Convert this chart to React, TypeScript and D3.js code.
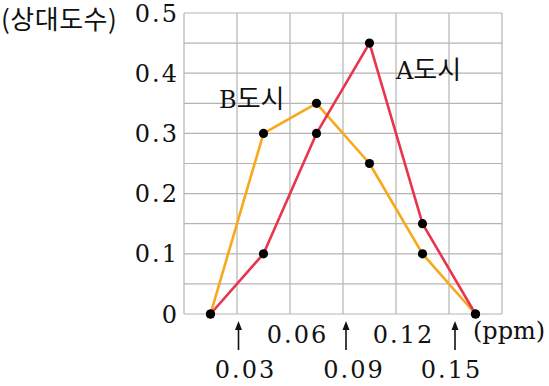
import * as d3 from 'd3';
import React from 'react';

// relative frequency polygon of ozone (?) concentrations, two cities
const classMids = [0.015, 0.045, 0.075, 0.105, 0.135, 0.165];
const cityA = [0, 0.1, 0.3, 0.45, 0.15, 0];
const cityB = [0, 0.3, 0.35, 0.25, 0.1, 0];
const yTicks = [0, 0.1, 0.2, 0.3, 0.4, 0.5];
const xUpperTicks = [0.06, 0.12];
const xArrowTicks = [0.03, 0.09, 0.15];

const W = 549;
const H = 386;
const serif = '"DejaVu Serif", "Liberation Serif", serif';
const kr = '"Noto Sans CJK KR", sans-serif';

export default function App() {
  const x = d3.scaleLinear().domain([0, 0.18]).range([184, 502]);
  const y = d3.scaleLinear().domain([0, 0.5]).range([314, 13]);

  const line = d3
    .line<number>()
    .x((_, i) => x(classMids[i]))
    .y((d) => y(d));

  const hGrid = d3.range(0, 0.5001, 0.05);
  const vGrid = d3.range(0, 0.1801, 0.03);
  // the arrows and their labels sit a little off the gridlines in the original
  const arrowShift = [1.5, 3, 6];
  const labelShift = [8.5, 11, 2.5];

  return (
    <svg width={W} height={H} style={{ position: 'absolute', left: 0, top: 0, background: '#fff' }}>
      <g stroke="#b4b4b4" strokeWidth={1.2}>
        {hGrid.map((v, i) => (
          <line key={'h' + i} x1={x(0)} x2={x(0.18)} y1={y(v)} y2={y(v)} />
        ))}
        {vGrid.map((v, i) => (
          <line key={'v' + i} x1={x(v)} x2={x(v)} y1={y(0)} y2={y(0.5)} />
        ))}
      </g>

      <path d={line(cityB) || ''} fill="none" stroke="#f7a81b" strokeWidth={2.6} strokeLinejoin="round" />
      <path d={line(cityA) || ''} fill="none" stroke="#e9344d" strokeWidth={2.6} strokeLinejoin="round" />
      {[cityA, cityB].map((s, k) =>
        s.map((d, i) => <circle key={k + '-' + i} cx={x(classMids[i])} cy={y(d)} r={4.6} fill="#000" />)
      )}

      <g fontFamily={serif} fontSize={24} fill="#111" letterSpacing={2}>
        {yTicks.map((t) => (
          <text key={t} x={179} y={y(t)} dy="0.36em" textAnchor="end">
            {t === 0 ? '0' : t.toFixed(1)}
          </text>
        ))}
        {xUpperTicks.map((t) => (
          <text key={t} x={x(t) + 7.5} y={343} textAnchor="middle">
            {t.toFixed(2)}
          </text>
        ))}
        {xArrowTicks.map((t, i) => (
          <text key={t} x={x(t) + labelShift[i]} y={378} textAnchor="middle">
            {t.toFixed(2)}
          </text>
        ))}
        <text x={473} y={339} letterSpacing={0}>(ppm)</text>
      </g>

      <g stroke="#111" strokeWidth={1.6} fill="#111">
        {xArrowTicks.map((t, i) => {
          const cx = x(t) + arrowShift[i];
          return (
            <g key={t}>
              <line x1={cx} x2={cx} y1={350} y2={327} />
              <path d={`M${cx - 3.5},${330} L${cx},${321} L${cx + 3.5},${330} Z`} stroke="none" />
            </g>
          );
        })}
      </g>

      <text x={1} y={29} fontFamily={kr} fontSize={26} letterSpacing={0.5} fill="#111">
        (상대도수)
      </text>
      <text x={219} y={108} fontFamily={serif} fontSize={24} fill="#111">
        B<tspan fontFamily={kr} fontSize={26}>도시</tspan>
      </text>
      <text x={396} y={79} fontFamily={serif} fontSize={24} fill="#111">
        A<tspan fontFamily={kr} fontSize={26}>도시</tspan>
      </text>
    </svg>
  );
}
